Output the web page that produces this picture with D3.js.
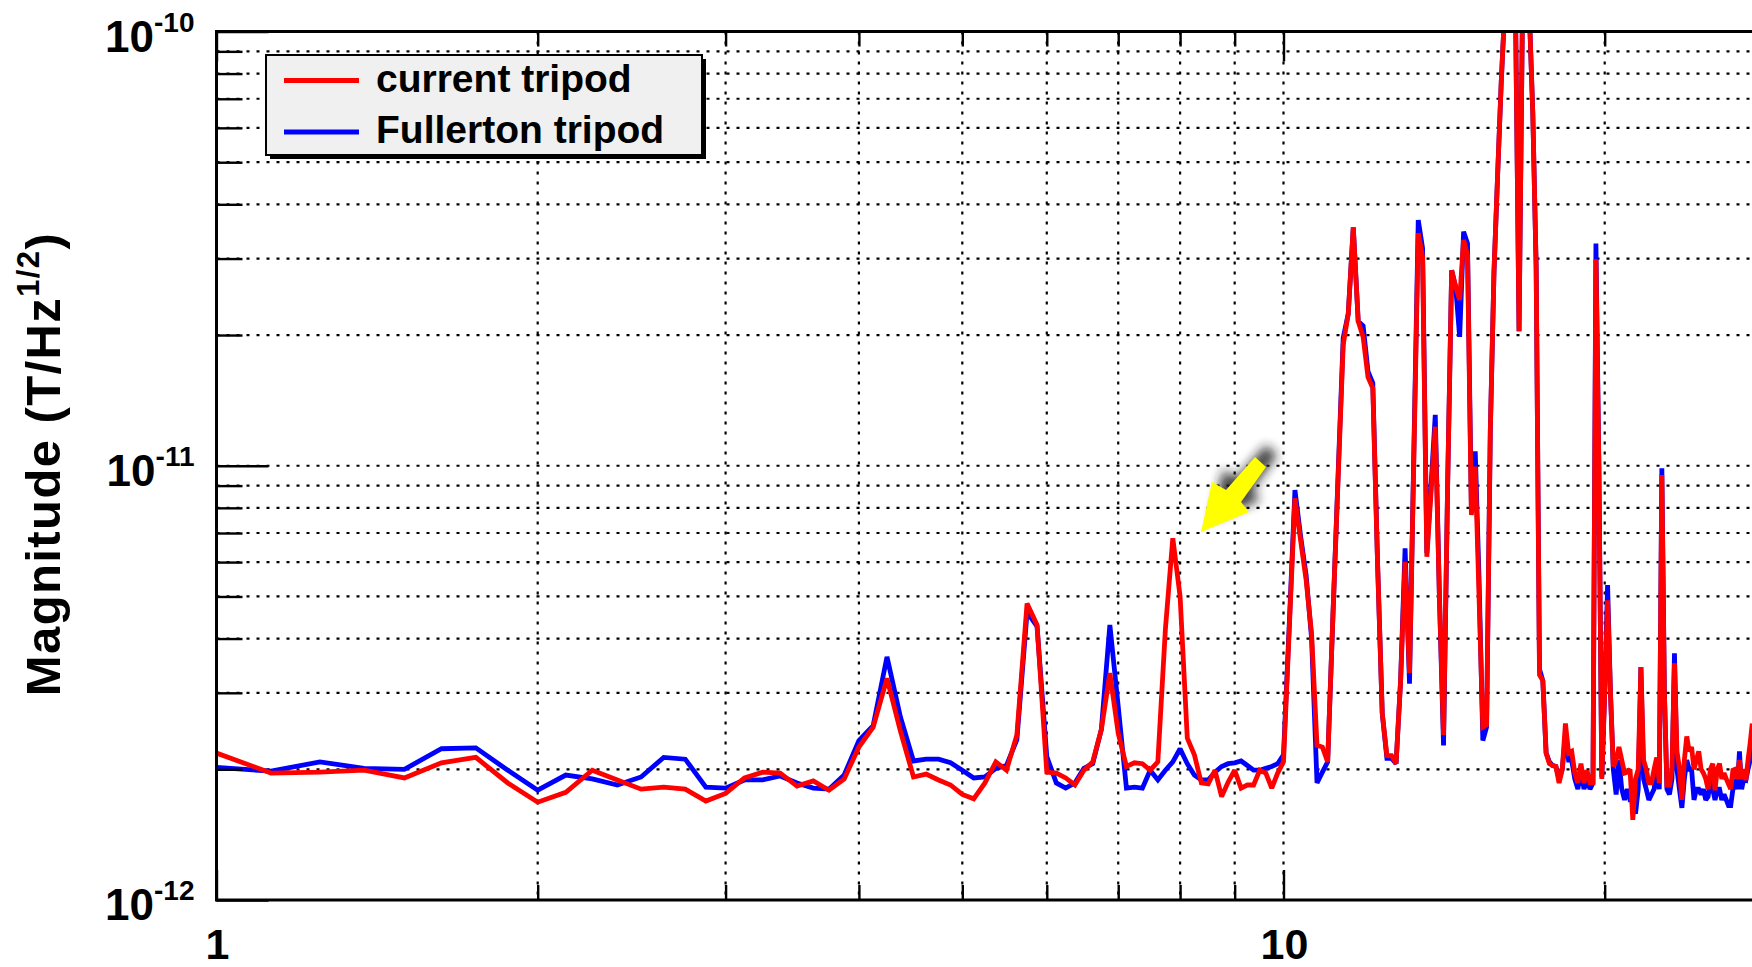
<!DOCTYPE html>
<html>
<head>
<meta charset="utf-8">
<script src="https://cdn.jsdelivr.net/npm/d3@7/dist/d3.min.js"></script>
<style>
  html, body { margin: 0; padding: 0; background: #fff; }
  svg { display: block; }
  text { font-family: "Liberation Sans", Arial, Helvetica, sans-serif; font-weight: bold; fill: #000; }
</style>
</head>
<body>
<svg id="chart" width="1752" height="967"></svg>
<script>
// Frequency bins (Hz), 0.125 Hz resolution
const freq = [
  1, 1.125, 1.25, 1.375, 1.5, 1.625, 1.75, 1.875,
  2, 2.125, 2.25, 2.375, 2.5, 2.625, 2.75, 2.875,
  3, 3.125, 3.25, 3.375, 3.5, 3.625, 3.75, 3.875,
  4, 4.125, 4.25, 4.375, 4.5, 4.625, 4.75, 4.875,
  5, 5.125, 5.25, 5.375, 5.5, 5.625, 5.75, 5.875,
  6, 6.125, 6.25, 6.375, 6.5, 6.625, 6.75, 6.875,
  7, 7.125, 7.25, 7.375, 7.5, 7.625, 7.75, 7.875,
  8, 8.125, 8.25, 8.375, 8.5, 8.625, 8.75, 8.875,
  9, 9.125, 9.25, 9.375, 9.5, 9.625, 9.75, 9.875,
  10, 10.125, 10.25, 10.375, 10.5, 10.625, 10.75, 10.875,
  11, 11.125, 11.25, 11.375, 11.5, 11.625, 11.75, 11.875,
  12, 12.125, 12.25, 12.375, 12.5, 12.625, 12.75, 12.875,
  13, 13.125, 13.25, 13.375, 13.5, 13.625, 13.75, 13.875,
  14, 14.125, 14.25, 14.375, 14.5, 14.625, 14.75, 14.875,
  15, 15.125, 15.25, 15.375, 15.5, 15.625, 15.75, 15.875,
  16, 16.125, 16.25, 16.375, 16.5, 16.625, 16.75, 16.875,
  17, 17.125, 17.25, 17.375, 17.5, 17.625, 17.75, 17.875,
  18, 18.125, 18.25, 18.375, 18.5, 18.625, 18.75, 18.875,
  19, 19.125, 19.25, 19.375, 19.5, 19.625, 19.75, 19.875,
  20, 20.125, 20.25, 20.375, 20.5, 20.625, 20.75, 20.875,
  21, 21.125, 21.25, 21.375, 21.5, 21.625, 21.75, 21.875,
  22, 22.125, 22.25, 22.375, 22.5, 22.625, 22.75, 22.875,
  23, 23.125, 23.25, 23.375, 23.5, 23.625, 23.75, 23.875,
  24, 24.125, 24.25, 24.375, 24.5, 24.625, 24.75, 24.875,
  25, 25.125, 25.25, 25.375, 25.5, 25.625, 25.75, 25.875,
  26, 26.125, 26.25, 26.375, 26.5, 26.625, 26.75, 26.875,
  27, 27.125, 27.25, 27.375, 27.5
];

// Amplitude spectral density, in pT/Hz^1/2 (1 pT = 1e-12 T)
const currentTripod = [
  2.18, 1.96, 1.97, 1.99, 1.91, 2.07, 2.13, 1.86,
  1.68, 1.77, 1.99, 1.89, 1.80, 1.82, 1.80, 1.69,
  1.76, 1.91, 1.97, 1.96, 1.83, 1.88, 1.79, 1.90,
  2.25, 2.50, 3.24, 2.45, 1.92, 1.95, 1.89, 1.84,
  1.75, 1.71, 1.86, 2.08, 1.99, 2.40, 4.82, 4.30,
  1.97, 1.96, 1.91, 1.84, 1.99, 2.08, 2.47, 3.33,
  2.42, 2.03, 2.07, 2.06, 1.99, 2.08, 4.20, 6.81,
  5.00, 2.36, 2.16, 1.86, 1.85, 1.99, 1.73, 1.87,
  1.99, 1.81, 1.84, 1.84, 1.99, 1.96, 1.81, 1.96,
  2.08, 4.20, 8.41, 6.75, 5.46, 4.10, 2.27, 2.25,
  2.08, 4.50, 9.30, 19.0, 22.4, 35.4, 21.5, 19.8,
  16.0, 15.1, 6.00, 2.69, 2.15, 2.15, 2.06, 3.20,
  6.01, 3.33, 10.5, 34.3, 30.3, 6.17, 8.70, 12.3,
  5.00, 2.40, 9.00, 28.2, 25.8, 24.1, 33.1, 30.6,
  7.70, 9.95, 5.00, 2.50, 2.53, 12.0, 28.0, 47.0,
  77.0, 115, 115, 115, 110, 20.4, 115, 115,
  110, 65.0, 28.7, 3.30, 3.20, 2.18, 2.06, 2.04,
  2.03, 1.86, 2.00, 2.55, 2.18, 2.20, 1.96, 1.86,
  2.06, 1.86, 1.99, 1.86, 1.86, 29.9, 10.0, 1.90,
  3.00, 4.90, 3.00, 2.03, 2.10, 2.25, 2.10, 1.96,
  1.97, 2.00, 1.53, 1.90, 2.00, 3.44, 2.10, 2.00,
  1.86, 1.86, 2.00, 2.13, 1.86, 9.52, 3.00, 1.84,
  1.84, 2.00, 3.51, 2.20, 2.01, 1.70, 2.10, 2.38,
  2.20, 2.25, 2.00, 2.10, 2.20, 2.00, 1.96, 1.90,
  1.80, 2.00, 2.06, 1.79, 2.00, 2.06, 1.90, 1.96,
  1.90, 1.85, 1.80, 1.99, 2.00, 1.90, 2.10, 1.90,
  2.00, 1.89, 2.10, 2.30, 2.55
];

const fullertonTripod = [
  2.02, 1.98, 2.08, 2.01, 2.00, 2.23, 2.24, 1.99,
  1.79, 1.94, 1.90, 1.84, 1.92, 2.13, 2.11, 1.82,
  1.81, 1.89, 1.89, 1.93, 1.86, 1.81, 1.80, 1.94,
  2.33, 2.52, 3.63, 2.64, 2.09, 2.11, 2.11, 2.07,
  1.99, 1.91, 1.92, 2.01, 2.04, 2.34, 4.60, 4.27,
  2.14, 1.86, 1.81, 1.86, 2.01, 2.06, 2.47, 4.30,
  2.79, 1.81, 1.82, 1.81, 1.99, 1.89, 1.99, 2.08,
  2.23, 2.06, 1.94, 1.89, 1.89, 1.97, 2.03, 2.06,
  2.07, 2.09, 2.04, 1.99, 1.99, 2.01, 2.03, 2.06,
  2.16, 4.30, 8.79, 6.90, 5.60, 4.00, 1.86, 1.97,
  2.08, 4.50, 9.50, 19.7, 22.4, 35.4, 21.5, 21.0,
  16.5, 15.5, 6.00, 2.69, 2.12, 2.12, 2.06, 3.20,
  6.45, 3.15, 11.0, 36.8, 31.7, 6.30, 9.00, 13.1,
  5.00, 2.27, 9.00, 28.2, 25.8, 19.8, 34.6, 32.5,
  8.00, 10.8, 5.50, 2.33, 2.50, 12.0, 28.0, 47.0,
  77.0, 115, 115, 115, 110, 20.4, 115, 115,
  110, 65.0, 28.7, 3.40, 3.20, 2.18, 2.08, 2.04,
  2.03, 1.90, 2.00, 2.40, 2.10, 2.10, 1.90, 1.80,
  2.00, 1.80, 1.90, 1.80, 1.86, 32.5, 10.0, 1.92,
  3.00, 5.31, 3.00, 2.00, 1.75, 2.10, 1.80, 1.70,
  1.80, 1.70, 1.70, 1.58, 1.80, 3.44, 1.90, 1.80,
  1.70, 1.75, 1.80, 2.00, 1.80, 9.87, 3.00, 1.80,
  1.75, 1.90, 3.70, 2.00, 1.80, 1.63, 1.90, 2.10,
  2.00, 2.00, 1.70, 1.80, 1.80, 1.75, 1.80, 1.70,
  1.73, 1.90, 1.80, 1.70, 1.80, 1.80, 1.70, 1.75,
  1.70, 1.65, 1.65, 1.80, 1.90, 1.80, 2.20, 1.80,
  1.90, 1.89, 2.00, 2.10, 2.40
];

const seriesNames = ["current tripod", "Fullerton tripod"];
const seriesColors = ["#ff0000", "#0000ff"];
const yTickExponents = [-12, -11, -10];
const xTickLabels = [1, 10];
const yTitle = "Magnitude (T/Hz";
const yTitleSup = "1/2";
const PT = 1e-12;

const W = 1752, H = 967;
const plot = { left: 216.5, top: 31.5, bottom: 900 };

const svg = d3.select("#chart");
svg.append("rect").attr("width", W).attr("height", H).attr("fill", "#fff");

// log frequency axis: one decade spans 1067 px, the frame runs off the right edge
const x = d3.scaleLog().domain([1, 10]).range([plot.left, plot.left + 1067]);
const xEnd = x.invert(W);
x.domain([1, xEnd]).range([plot.left, W]);

const y = d3.scaleLog().domain([1e-12, 1e-10]).range([plot.bottom, plot.top]);

const isDecade = v => Math.abs(Math.log10(v) - Math.round(Math.log10(v))) < 1e-6;

const xTicks = x.ticks().filter(v => v <= xEnd);
const yTicks = y.ticks();

// dotted grid
const grid = svg.append("g").attr("stroke", "#000").attr("stroke-width", 2.2)
  .attr("stroke-dasharray", "3,7");
grid.selectAll("line.gy")
  .data(yTicks.filter(v => v > 1.0001e-12 && v < 0.9999e-10))
  .join("line")
  .attr("x1", plot.left).attr("x2", W)
  .attr("y1", d => y(d)).attr("y2", d => y(d));
grid.selectAll("line.gx")
  .data(xTicks.filter(v => v > 1.0001))
  .join("line")
  .attr("x1", d => x(d)).attr("x2", d => x(d))
  .attr("y1", plot.top).attr("y2", plot.bottom);

// spectra
svg.append("clipPath").attr("id", "plotClip")
  .append("rect").attr("x", plot.left).attr("y", plot.top)
  .attr("width", W - plot.left).attr("height", plot.bottom - plot.top);

const series = [
  { name: seriesNames[1], color: seriesColors[1], values: fullertonTripod },
  { name: seriesNames[0], color: seriesColors[0], values: currentTripod }
];
const line = d3.line()
  .x((v, i) => x(freq[i]))
  .y(v => y(v * PT));

svg.append("g").attr("clip-path", "url(#plotClip)")
  .selectAll("path")
  .data(series)
  .join("path")
  .attr("d", d => line(d.values))
  .attr("fill", "none")
  .attr("stroke", d => d.color)
  .attr("stroke-width", 4.8)
  .attr("stroke-linejoin", "miter")
  .attr("stroke-miterlimit", 2);

// axes with inward ticks
function styleTicks(g, minor, major, sign, horizontal) {
  g.select(".domain").remove();
  g.selectAll(".tick text").remove();
  g.selectAll(".tick line")
    .attr("stroke", "#000").attr("stroke-width", 2.4)
    .each(function (d) {
      const len = (isDecade(d) ? major : minor) * sign;
      d3.select(this).attr(horizontal ? "x2" : "y2", len);
    });
}

svg.append("g").attr("transform", `translate(${plot.left},0)`)
  .call(d3.axisRight(y).tickValues(yTicks).tickSizeOuter(0))
  .call(g => styleTicks(g, 26, 52, 1, true));

svg.append("g").attr("transform", `translate(0,${plot.bottom})`)
  .call(d3.axisTop(x).tickValues(xTicks).tickSizeOuter(0))
  .call(g => styleTicks(g, 15, 30, -1, false));

svg.append("g").attr("transform", `translate(0,${plot.top})`)
  .call(d3.axisBottom(x).tickValues(xTicks).tickSizeOuter(0))
  .call(g => styleTicks(g, 15, 30, 1, false));

// frame
const frame = svg.append("g").attr("stroke", "#000").attr("stroke-width", 3).attr("fill", "none");
frame.append("line").attr("x1", plot.left).attr("x2", plot.left).attr("y1", plot.top - 1.5).attr("y2", plot.bottom + 1.5);
frame.append("line").attr("x1", plot.left).attr("x2", W).attr("y1", plot.top).attr("y2", plot.top);
frame.append("line").attr("x1", plot.left).attr("x2", W).attr("y1", plot.bottom).attr("y2", plot.bottom);

// y tick labels as 10^n
svg.append("g").selectAll("text")
  .data(yTickExponents)
  .join("text")
  .attr("x", plot.left - 22)
  .attr("y", d => y(Math.pow(10, d)) + 20)
  .attr("text-anchor", "end")
  .style("font-size", "44px")
  .each(function (d) {
    const t = d3.select(this);
    t.append("tspan").text("10");
    t.append("tspan").attr("dy", -20).style("font-size", "28px").text(String(d));
  });

// x tick labels
svg.append("g").selectAll("text")
  .data(xTickLabels)
  .join("text")
  .attr("x", d => x(d) + 1)
  .attr("y", 959)
  .attr("text-anchor", "middle")
  .style("font-size", "43px")
  .text(d => d);

// y axis title
const title = svg.append("text")
  .attr("transform", "translate(60,464) rotate(-90)")
  .attr("text-anchor", "middle")
  .style("font-size", "49px")
  .style("letter-spacing", "1.4px");
title.append("tspan").text(yTitle);
title.append("tspan").attr("dy", -21).style("font-size", "31px").text(yTitleSup);
title.append("tspan").attr("dy", 21).text(")");

// legend
const legend = svg.append("g");
legend.append("rect").attr("x", 270).attr("y", 59).attr("width", 436).attr("height", 100).attr("fill", "#000");
legend.append("rect").attr("x", 266).attr("y", 55).attr("width", 436).attr("height", 100)
  .attr("fill", "#f0f0f0").attr("stroke", "#000").attr("stroke-width", 2);
const legendRows = [
  { name: seriesNames[0], color: seriesColors[0], cy: 80.5 },
  { name: seriesNames[1], color: seriesColors[1], cy: 132 }
];
legend.selectAll("line.item").data(legendRows).join("line")
  .attr("x1", 284).attr("x2", 359)
  .attr("y1", d => d.cy).attr("y2", d => d.cy)
  .attr("stroke", d => d.color).attr("stroke-width", 4.8);
legend.selectAll("text").data(legendRows).join("text")
  .attr("x", 376).attr("y", d => d.cy + 11)
  .style("font-size", "39px")
  .text(d => d.name);

// yellow arrow with soft shadow
const defs = svg.append("defs");
defs.append("filter").attr("id", "soft").attr("x", "-50%").attr("y", "-50%").attr("width", "200%").attr("height", "200%")
  .append("feGaussianBlur").attr("stdDeviation", 5.5);
const arrowPts = [[1201, 532], [1212, 482], [1226, 490], [1255, 457], [1266, 467], [1241, 502], [1249, 512]];
svg.append("polygon")
  .attr("points", arrowPts.map(p => [p[0] + 11, p[1] - 12].join(",")).join(" "))
  .attr("fill", "#1e1e1e").attr("opacity", 0.85).attr("filter", "url(#soft)");
svg.append("polygon")
  .attr("points", arrowPts.map(p => p.join(",")).join(" "))
  .attr("fill", "#ffff00");
</script>
</body>
</html>
